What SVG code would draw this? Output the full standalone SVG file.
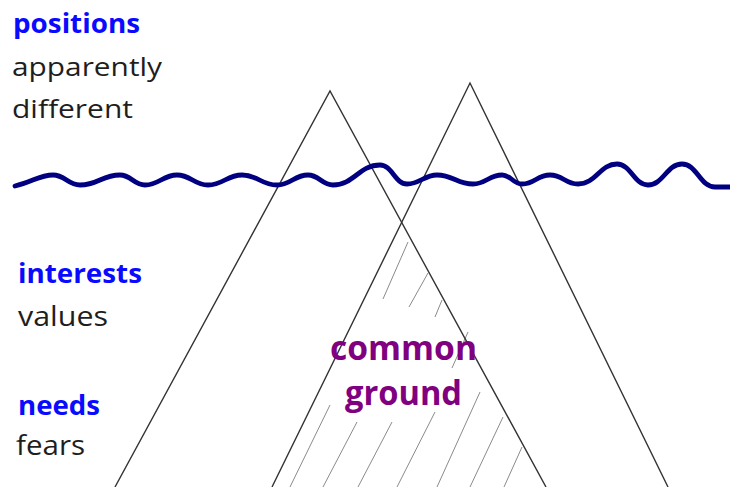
<svg xmlns="http://www.w3.org/2000/svg" width="730" height="487" viewBox="0 0 730 487">
<style>
.tri{fill:none;stroke:#333;stroke-width:1.4;stroke-linejoin:miter}
.hatch{stroke:#8a8a8a;stroke-width:1;fill:none}
.wave{fill:none;stroke:#000080;stroke-width:4.8;stroke-linecap:round}
.t{font-family:"Open Sans","Liberation Sans",sans-serif}
.b{font-weight:bold;fill:#0a0aff}
.r{fill:#1e1e1e}
.cg{font-weight:bold;fill:#800080;font-size:34px}
</style>
<rect width="730" height="487" fill="#fff"/>
<g id="hatching">
<line class="hatch" x1="408" y1="242" x2="383" y2="299"/>
<line class="hatch" x1="330" y1="405" x2="290" y2="487"/>
<line class="hatch" x1="428" y1="273" x2="409" y2="307"/>
<line class="hatch" x1="357" y1="422" x2="323" y2="487"/>
<line class="hatch" x1="442" y1="300" x2="435" y2="317"/>
<line class="hatch" x1="392" y1="422" x2="358" y2="487"/>
<line class="hatch" x1="468" y1="332" x2="452" y2="368"/>
<line class="hatch" x1="435" y1="412" x2="397" y2="487"/>
<line class="hatch" x1="480" y1="392" x2="437" y2="487"/>
<line class="hatch" x1="503" y1="417" x2="470" y2="487"/>
<line class="hatch" x1="522" y1="447" x2="504" y2="487"/>
</g>
<g id="triangle-left">
<polyline class="tri" points="115,487 330,91 546,487"/>
</g>
<g id="triangle-right">
<polyline class="tri" points="272,487 470,83 668,487"/>
</g>
<g id="waterline">
<path class="wave" d="M15,186 C32,182 40,175 53,175 C65,175 68,185 80,185 C98,185 102,175 120,175 C131,175 134,185 145,185 C159,185 163,175 177,175 C191,175 194,185 208,185 C223,185 227,175 242,175 C258,175 261,185 277,185 C291,185 294,175 308,175 C319,175 322,185 333,185 C354,185 359,165 380,165 C392,165 395,184 407,184 C420,184 424,175 437,175 C453,175 457,184 473,184 C486,184 489,175 502,175 C511,175 513,184 522,184 C535,184 537,175 550,175 C563,175 565,184 578,184 C596,184 600,164 617,164 C631,164 634,185 648,185 C663,185 667,164 682,164 C697,164 700,187 715,187 L730,187"/>
</g>
<g id="label-positions">
<text class="t b" x="13" y="33" font-size="26" textLength="127" lengthAdjust="spacingAndGlyphs">positions</text>
<text class="t r" x="12" y="76" font-size="26" textLength="150" lengthAdjust="spacingAndGlyphs">apparently</text>
<text class="t r" x="12" y="118" font-size="26" textLength="121" lengthAdjust="spacingAndGlyphs">different</text>
</g>
<g id="label-interests">
<text class="t b" x="18" y="283" font-size="26" textLength="124" lengthAdjust="spacingAndGlyphs">interests</text>
<text class="t r" x="18" y="326" font-size="28" textLength="90" lengthAdjust="spacingAndGlyphs">values</text>
</g>
<g id="label-needs">
<text class="t b" x="18" y="415" font-size="26" textLength="82" lengthAdjust="spacingAndGlyphs">needs</text>
<text class="t r" x="16" y="455" font-size="28" textLength="69" lengthAdjust="spacingAndGlyphs">fears</text>
</g>
<g id="common-ground">
<text class="t cg" x="330" y="360" textLength="147" lengthAdjust="spacingAndGlyphs">common</text>
<text class="t cg" x="345" y="405" textLength="117" lengthAdjust="spacingAndGlyphs">ground</text>
</g>
</svg>
